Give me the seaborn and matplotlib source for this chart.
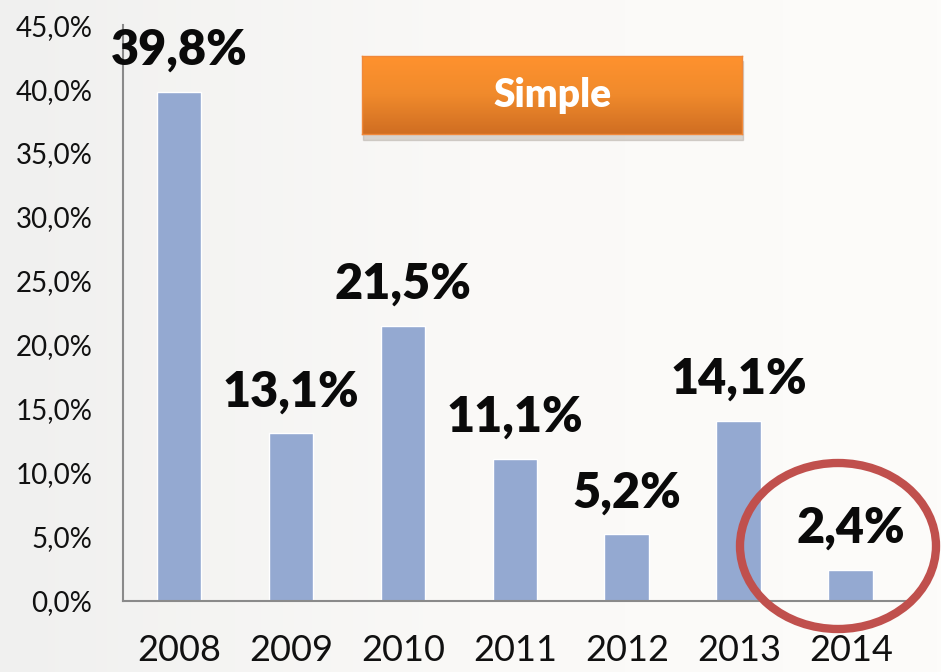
import numpy as np
import pandas as pd
import seaborn as sns
import matplotlib.pyplot as plt
from matplotlib.patches import Ellipse, FancyBboxPatch
from matplotlib.ticker import FuncFormatter

years = ["2008", "2009", "2010", "2011", "2012", "2013", "2014"]
rates = [39.8, 13.1, 21.5, 11.1, 5.2, 14.1, 2.4]
badge_text = "Simple"

df = pd.DataFrame({"year": years, "rate": rates})

sns.set_theme(style="white")
plt.rcParams["font.family"] = ["Lato", "DejaVu Sans"]

fig = plt.figure(figsize=(9.41, 6.72), dpi=100)

# soft grey background, a bit darker on the left
bg = fig.add_axes([0, 0, 1, 1], zorder=-10)
grad = np.linspace(0, 1, 256).reshape(1, -1)
bg.imshow(grad, aspect="auto", cmap=sns.blend_palette(["#f0f0ef", "#faf9f7", "#fdfcfa"], as_cmap=True),
          extent=[0, 1, 0, 1])
bg.axis("off")

ax = fig.add_axes([0.1307, 0.1057, 0.833, 0.857])
ax.patch.set_alpha(0)

sns.barplot(data=df, x="year", y="rate", color="#94A9D1", saturation=1,
            width=0.4, ax=ax)

ax.set_ylim(0, 45)
ax.set_yticks(np.arange(0, 46, 5))
ax.yaxis.set_major_formatter(FuncFormatter(lambda v, p: f"{v:.1f}%".replace(".", ",")))
ax.set_xlabel("")
ax.set_ylabel("")
ax.tick_params(axis="y", labelsize=20, pad=22, length=0, colors="#111111")
ax.tick_params(axis="x", labelsize=26, pad=24, length=0, colors="#111111")

for s in ["top", "right"]:
    ax.spines[s].set_visible(False)
for s in ["left", "bottom"]:
    ax.spines[s].set_color("#8a8a8a")
    ax.spines[s].set_linewidth(1.5)

# value labels above the bars
for i, v in enumerate(rates):
    ax.annotate(f"{v:.1f}%".replace(".", ","), (i, v), xytext=(0, 30),
                textcoords="offset points", ha="center", va="center",
                fontsize=35, fontweight="heavy", color="#0a0a0a")

# orange badge
shadow = FancyBboxPatch((0.386, 0.792), 0.404, 0.117, boxstyle="square,pad=0",
                        transform=fig.transFigure, color="#b0a8a0", alpha=0.45, zorder=3)
fig.patches.append(shadow)
badge_ax = fig.add_axes([0.385, 0.8, 0.404, 0.117], zorder=4)
bgrad = np.linspace(0, 1, 64).reshape(-1, 1)
badge_ax.imshow(bgrad, aspect="auto",
                cmap=sns.blend_palette(["#FF922E", "#F08A2C", "#D06E22"], as_cmap=True),
                extent=[0, 1, 0, 1])
badge_ax.set_xticks([])
badge_ax.set_yticks([])
for s in badge_ax.spines.values():
    s.set_color("#F0883A")
    s.set_linewidth(1)
badge_ax.text(0.5, 0.5, badge_text, ha="center", va="center", color="white",
              fontsize=28, fontweight="heavy", transform=badge_ax.transAxes)

# red ring around the last year
ring = Ellipse((838 / 941, 1 - 546 / 672), 196 / 941, 166 / 672,
               transform=fig.transFigure, fill=False, edgecolor="#C0504D",
               linewidth=6, zorder=5)
fig.patches.append(ring)

fig.savefig("out.png", dpi=100)
